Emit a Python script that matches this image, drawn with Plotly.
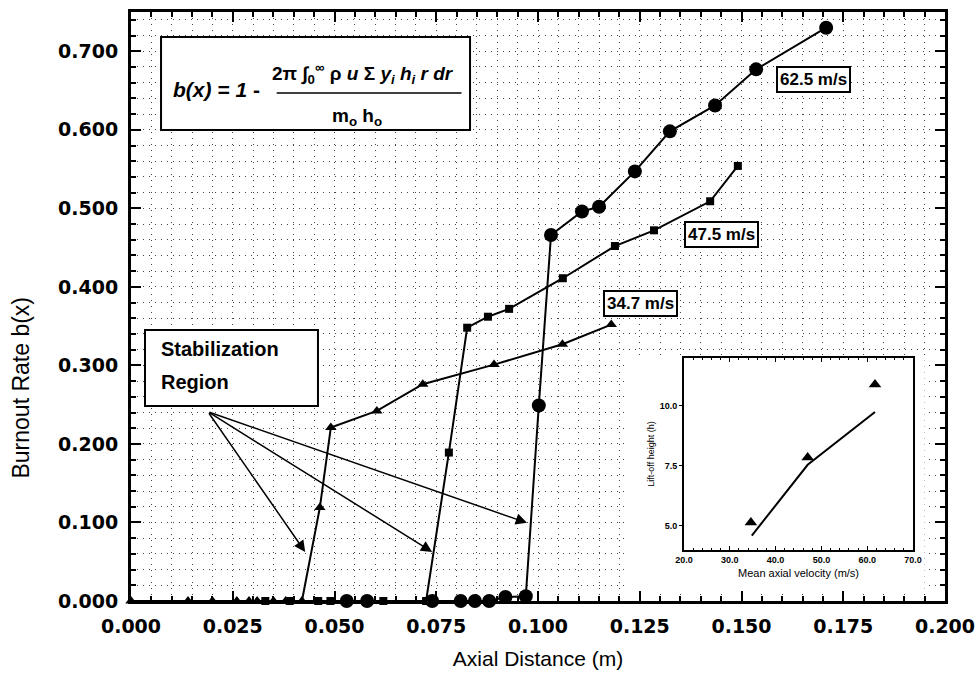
import plotly.graph_objects as go

# ---------------- data ----------------
x_347 = [0.000, 0.014, 0.020, 0.026, 0.029, 0.031, 0.035, 0.038, 0.042,
         0.0464, 0.0491, 0.0604, 0.0717, 0.0892, 0.106, 0.118]
y_347 = [0, 0, 0, 0, 0, 0, 0, 0, 0,
         0.119, 0.221, 0.242, 0.276, 0.301, 0.327, 0.352]

x_475 = [0.033, 0.039, 0.046, 0.049, 0.062, 0.0725,
         0.0781, 0.0826, 0.0877, 0.0929, 0.1061, 0.1189, 0.1285, 0.1423, 0.1491]
y_475 = [0, 0, 0, 0, 0, 0,
         0.189, 0.348, 0.362, 0.372, 0.411, 0.452, 0.472, 0.509, 0.554]

x_625 = [0.053, 0.058, 0.074, 0.081, 0.0845, 0.088, 0.092, 0.097,
         0.1002, 0.1032, 0.1108, 0.1150, 0.1238, 0.1324, 0.1435, 0.1536, 0.1708]
y_625 = [0, 0, 0, 0, 0, 0, 0.005, 0.006,
         0.249, 0.466, 0.496, 0.502, 0.547, 0.598, 0.631, 0.677, 0.730]

# inset data
vel_pts = [34.6, 47.0, 61.7]
lift_pts = [5.15, 7.85, 10.9]
vel_fit = [34.8, 47.0, 61.7]
lift_fit = [4.6, 7.55, 9.75]

x_ticks = [0.000, 0.025, 0.050, 0.075, 0.100, 0.125, 0.150, 0.175, 0.200]
y_ticks = [0.0, 0.1, 0.2, 0.3, 0.4, 0.5, 0.6, 0.7]
inset_xticks = [20, 30, 40, 50, 60, 70]
inset_yticks = [5.0, 7.5, 10.0]

speed_labels = ["34.7 m/s", "47.5 m/s", "62.5 m/s"]
speed_label_x = [0.1253, 0.145, 0.1678]
speed_label_y = [0.379, 0.467, 0.664]

arrow_tail = (0.0189, 0.241)
arrow_tips_x = [0.0428, 0.0740, 0.0973]
arrow_tips_y = [0.0625, 0.0625, 0.0995]

FONT = "Liberation Sans"
TICKFONT = "DejaVu Sans"

fig = go.Figure()

line_style = dict(color="black", width=2)
fig.add_trace(go.Scatter(x=x_347, y=y_347, mode="lines+markers", line=line_style,
                         marker=dict(symbol="triangle-up", size=10, color="black"),
                         cliponaxis=False, showlegend=False))
fig.add_trace(go.Scatter(x=x_475, y=y_475, mode="lines+markers", line=line_style,
                         marker=dict(symbol="square", size=8, color="black"),
                         cliponaxis=False, showlegend=False))
fig.add_trace(go.Scatter(x=x_625, y=y_625, mode="lines+markers", line=line_style,
                         marker=dict(symbol="circle", size=14, color="black"),
                         cliponaxis=False, showlegend=False))

# empty trace: white backing subplot for the inset
fig.add_trace(go.Scatter(x=[None], y=[None], xaxis="x2", yaxis="y2",
                         showlegend=False, hoverinfo="skip"))

# inset traces
fig.add_trace(go.Scatter(x=vel_fit, y=lift_fit, mode="lines", line=dict(color="black", width=2),
                         xaxis="x3", yaxis="y3", showlegend=False))
fig.add_trace(go.Scatter(x=vel_pts, y=lift_pts, mode="markers",
                         marker=dict(symbol="triangle-up", size=11, color="black"),
                         xaxis="x3", yaxis="y3", showlegend=False, cliponaxis=False))

tickfont = dict(family=TICKFONT, size=19, color="black", weight="bold")
GRIDC = "#444"
GRIDDASH = "1px,5px"

fig.update_layout(
    width=979, height=684,
    margin=dict(l=131, r=34, t=12, b=83),
    paper_bgcolor="white", plot_bgcolor="white",
    xaxis=dict(range=[0, 0.2], tickvals=x_ticks, ticktext=[f"{v:.3f}" for v in x_ticks],
               ticks="inside", ticklen=10, tickwidth=2, tickcolor="black",
               showline=True, linewidth=3, linecolor="black", mirror="allticks",
               zeroline=False, tickfont=tickfont, ticklabelstandoff=6, automargin=False,
               showgrid=True, gridcolor=GRIDC, griddash=GRIDDASH, gridwidth=1.2,
               minor=dict(dtick=0.005, ticks="inside", ticklen=5, tickcolor="black",
                          showgrid=True, gridcolor=GRIDC, griddash=GRIDDASH, gridwidth=1.2),
               title=dict(text="Axial Distance (m)", font=dict(family=FONT, size=21, color="black"),
                          standoff=16)),
    yaxis=dict(range=[0, 0.75], tickvals=y_ticks, ticktext=[f"{v:.3f}" for v in y_ticks],
               ticks="inside", ticklen=10, tickwidth=2, tickcolor="black",
               showline=True, linewidth=3, linecolor="black", mirror="allticks",
               zeroline=False, tickfont=tickfont, ticklabelstandoff=6, automargin=False,
               showgrid=True, gridcolor=GRIDC, griddash=GRIDDASH, gridwidth=1.2,
               minor=dict(dtick=0.02, ticks="inside", ticklen=5, tickcolor="black",
                          showgrid=True, gridcolor=GRIDC, griddash=GRIDDASH, gridwidth=1.2)),
    # white backing for the inset
    xaxis2=dict(domain=[0.607, 0.975], anchor="y2", range=[0, 1], visible=False),
    yaxis2=dict(domain=[0.0187, 0.4177], anchor="x2", range=[0, 1], visible=False),
    # inset
    xaxis3=dict(domain=[0.6794, 0.9607], anchor="y3", range=[20, 70],
                tickvals=inset_xticks, ticktext=[f"{v:.1f}" for v in inset_xticks],
                ticks="inside", ticklen=4, tickcolor="black",
                showline=True, linewidth=2, linecolor="black", mirror="allticks",
                showgrid=False, zeroline=False,
                minor=dict(dtick=2, ticks="inside", ticklen=2, tickcolor="black"),
                tickfont=dict(family=FONT, size=9, color="black", weight="bold"),
                title=dict(text="Mean axial velocity (m/s)",
                           font=dict(family=FONT, size=11, color="black"), standoff=6)),
    yaxis3=dict(domain=[0.0866, 0.4126], anchor="x3", range=[4.0, 12.0],
                tickvals=inset_yticks, ticktext=[f"{v:.1f}" for v in inset_yticks],
                ticks="outside", ticklen=3, tickcolor="black",
                showline=True, linewidth=2, linecolor="black", mirror=True,
                showgrid=False, zeroline=False,
                tickfont=dict(family=FONT, size=9, color="black", weight="bold"),
                title=dict(text="Lift-off height (h)",
                           font=dict(family=FONT, size=9, color="black"), standoff=4)),
)

shapes = []
# formula box
shapes.append(dict(type="rect", xref="paper", yref="paper",
                   x0=0.0369, x1=0.4165, y0=0.7997, y1=0.9576,
                   fillcolor="white", line=dict(color="black", width=2), layer="above"))
# fraction bar
shapes.append(dict(type="line", xref="paper", yref="paper",
                   x0=0.179, x1=0.406, y0=0.8625, y1=0.8625,
                   line=dict(color="black", width=1.5), layer="above"))
# stabilization region box
shapes.append(dict(type="rect", xref="paper", yref="paper",
                   x0=0.0172, x1=0.2297, y0=0.331, y1=0.460,
                   fillcolor="white", line=dict(color="black", width=2), layer="above"))
fig.update_layout(shapes=shapes)

ann = []
# y axis title (placed lower than centre, as in the original)
ann.append(dict(xref="paper", yref="paper", x=-0.1345, y=0.3616, xanchor="center", yanchor="middle",
                text="Burnout Rate b(x)", textangle=-90, showarrow=False,
                font=dict(family=FONT, size=23, color="black")))
# formula
ann.append(dict(xref="paper", yref="paper", x=0.049, y=0.8676, xanchor="left", yanchor="middle",
                text="<b><i>b(x) = 1</i> -</b>", showarrow=False,
                font=dict(family=FONT, size=21, color="black")))
ann.append(dict(xref="paper", yref="paper", x=0.285, y=0.8964, xanchor="center", yanchor="middle",
                text="<b>2π ∫<sub>0</sub><sup>∞</sup> ρ <i>u</i> Σ <i>y<sub>i</sub> h<sub>i</sub> r dr</i></b>",
                showarrow=False, font=dict(family=FONT, size=19, color="black")))
ann.append(dict(xref="paper", yref="paper", x=0.278, y=0.8217, xanchor="center", yanchor="middle",
                text="<b>m<sub>o</sub> h<sub>o</sub></b>",
                showarrow=False, font=dict(family=FONT, size=19, color="black")))
# stabilization text
ann.append(dict(xref="paper", yref="paper", x=0.034, y=0.428, xanchor="left", yanchor="middle",
                text="Stabilization", showarrow=False,
                font=dict(family=FONT, size=20, color="black", weight="bold")))
ann.append(dict(xref="paper", yref="paper", x=0.034, y=0.371, xanchor="left", yanchor="middle",
                text="Region", showarrow=False,
                font=dict(family=FONT, size=20, color="black", weight="bold")))
# arrows
for tx, ty in zip(arrow_tips_x, arrow_tips_y):
    ann.append(dict(x=tx, y=ty, ax=arrow_tail[0], ay=arrow_tail[1], xref="x", yref="y",
                    axref="x", ayref="y", text="", showarrow=True, arrowhead=2,
                    arrowsize=1.5, arrowwidth=1.5, arrowcolor="black", standoff=0))
# speed labels
for t, lx, ly in zip(speed_labels, speed_label_x, speed_label_y):
    ann.append(dict(x=lx, y=ly, xref="x", yref="y", text=t, showarrow=False,
                    font=dict(family=FONT, size=17, color="black", weight="bold"),
                    bgcolor="white", bordercolor="black", borderwidth=2, borderpad=2))
fig.update_layout(annotations=ann)

fig.write_html("out.html")
